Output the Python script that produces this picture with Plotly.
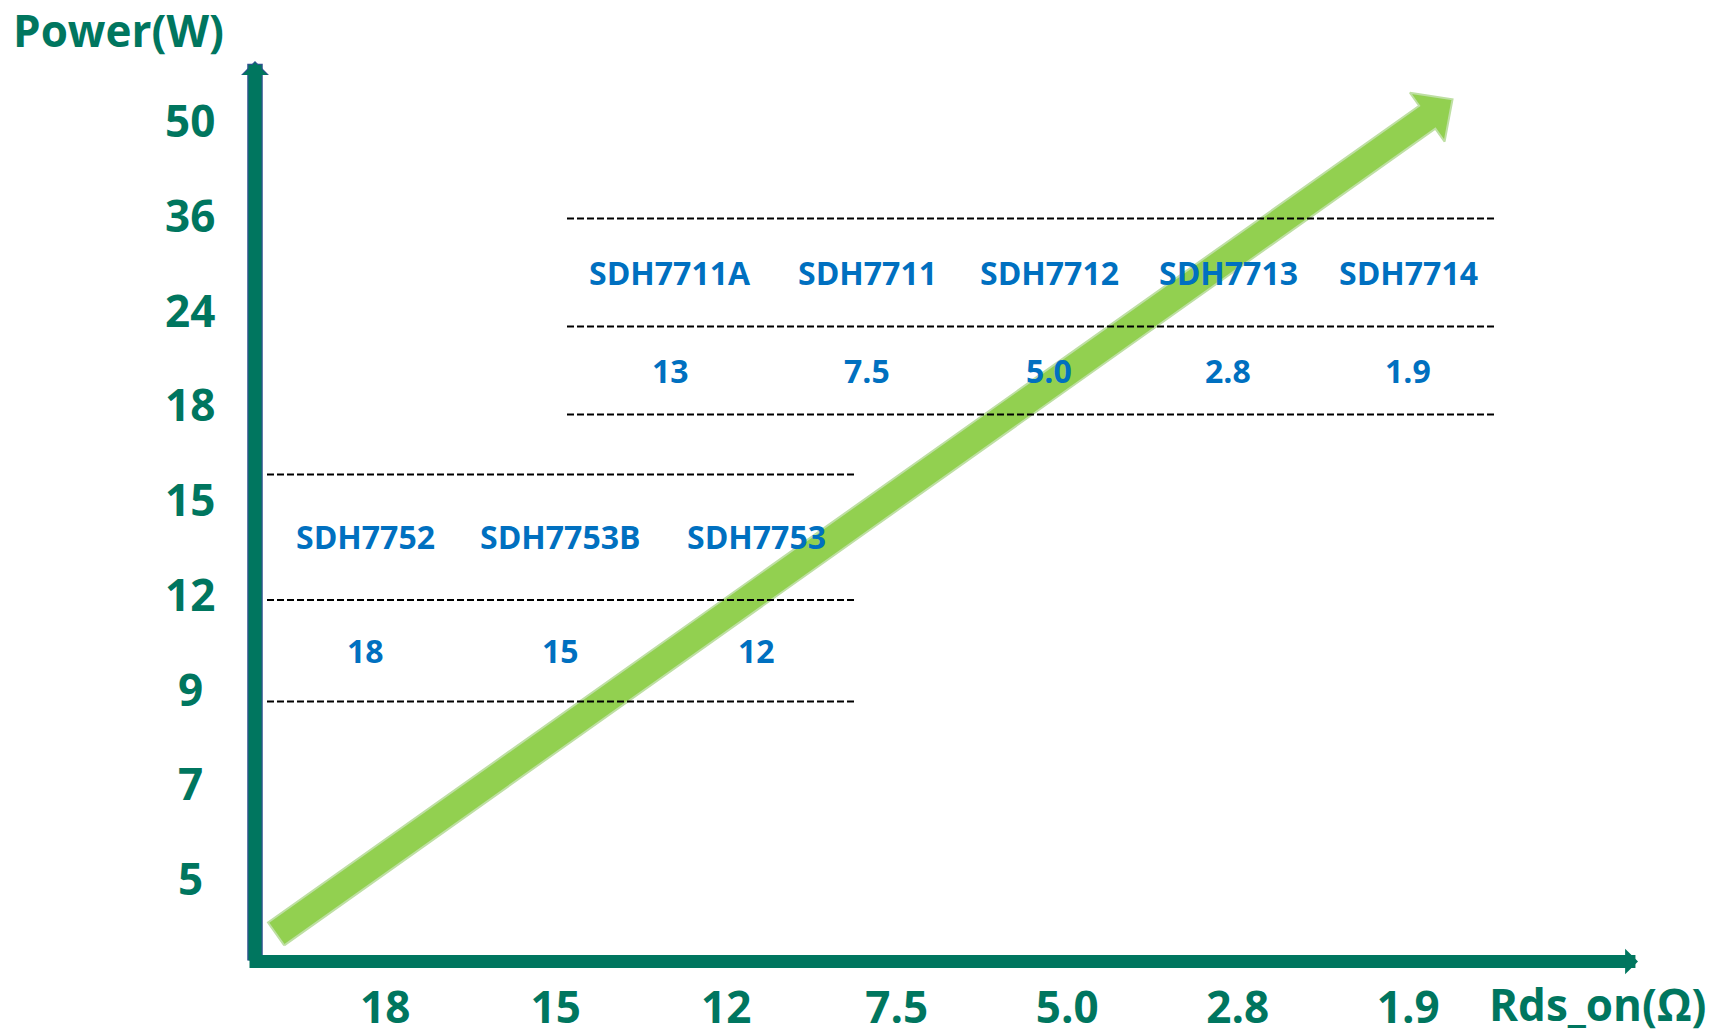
import numpy as np
import plotly.graph_objects as go

# ---------------- data ----------------
power_ticks = ["5", "7", "9", "12", "15", "18", "24", "36", "50"]      # Power(W), bottom -> top
rds_ticks = ["18", "15", "12", "7.5", "5.0", "2.8", "1.9"]           # Rds_on(Ω), left -> right

parts_high = ["SDH7711A", "SDH7711", "SDH7712", "SDH7713", "SDH7714"]
rds_high = ["13", "7.5", "5.0", "2.8", "1.9"]
parts_low = ["SDH7752", "SDH7753B", "SDH7753"]
rds_low = ["18", "15", "12"]

# trend arrow end points, in axis units (category index of x / y)
trend_from = (-0.64, -0.59)
trend_to = (6.26, 8.22)

# ---------------- layout constants ----------------
W, H = 1723, 1035
PL, PR, PT, PB = 256, 1637, 62, 962          # plot area in px
X_RANGE = [-0.758, 7.342]
Y_RANGE = [-0.886, 8.613]

TEAL = "#00765F"
BLUE = "#0070C0"
FONT = "Open Sans"


def px_x(px):
    return (px - PL) / (PR - PL)


def px_y(py):
    return (PB - py) / (PB - PT)


def to_px(x, y):
    return (PL + (x - X_RANGE[0]) / (X_RANGE[1] - X_RANGE[0]) * (PR - PL),
            PB - (y - Y_RANGE[0]) / (Y_RANGE[1] - Y_RANGE[0]) * (PB - PT))


def to_data(px, py):
    return (X_RANGE[0] + (px - PL) / (PR - PL) * (X_RANGE[1] - X_RANGE[0]),
            Y_RANGE[0] + (PB - py) / (PB - PT) * (Y_RANGE[1] - Y_RANGE[0]))


fig = go.Figure()

# ---------------- green trend arrow (polygon) ----------------
SHAFT_HALF, HEAD_HALF, HEAD_LEN = 14, 30, 31
tail = np.array(to_px(*trend_from))
tip = np.array(to_px(*trend_to))
u = (tip - tail) / np.linalg.norm(tip - tail)
n = np.array([-u[1], u[0]])
base = tip - u * HEAD_LEN
pts = [tail + n * SHAFT_HALF, base + n * SHAFT_HALF, base + n * HEAD_HALF, tip,
       base - n * HEAD_HALF, base - n * SHAFT_HALF, tail - n * SHAFT_HALF,
       tail + n * SHAFT_HALF]
poly = [to_data(p[0], p[1]) for p in pts]
fig.add_trace(go.Scatter(
    x=[p[0] for p in poly], y=[p[1] for p in poly],
    mode="lines", fill="toself", fillcolor="#92D050",
    line=dict(color="#BEDFA3", width=2),
    hoverinfo="skip", showlegend=False))

annotations = []
shapes = []

# ---------------- axis arrows ----------------
# y axis (outline underlay + teal)
annotations.append(dict(x=px_x(255), y=px_y(61), xref="paper", yref="paper",
                        ax=0, ay=901, text="", showarrow=True, arrowhead=1,
                        arrowwidth=15.5, arrowsize=0.3, arrowcolor="#2F528F",
                        font=dict(size=1)))
annotations.append(dict(x=px_x(255), y=px_y(62.5), xref="paper", yref="paper",
                        ax=0, ay=899.5, text="", showarrow=True, arrowhead=1,
                        arrowwidth=13, arrowsize=0.32, arrowcolor=TEAL,
                        font=dict(size=1)))
# x axis
annotations.append(dict(x=px_x(1638), y=px_y(961.5), xref="paper", yref="paper",
                        ax=-(1638 - 248), ay=0, text="", showarrow=True, arrowhead=1,
                        arrowwidth=13, arrowsize=0.33, arrowcolor=TEAL,
                        font=dict(size=1)))

# ---------------- y tick labels (centred) ----------------
for i, t in enumerate(power_ticks):
    annotations.append(dict(x=px_x(190), xref="paper", y=i, yref="y", text=t,
                            showarrow=False, xanchor="center", yanchor="middle",
                            font=dict(family=FONT, size=44, color=TEAL, weight="bold")))

# axis titles
annotations.append(dict(x=px_x(11), y=px_y(30), xref="paper", yref="paper",
                        text="Power(W)", showarrow=False, xanchor="left", yanchor="middle",
                        font=dict(family=FONT, size=44, color=TEAL, weight="bold")))
annotations.append(dict(x=px_x(1597), y=px_y(1004), xref="paper", yref="paper",
                        text="Rds_on(Ω)", showarrow=False, xanchor="center", yanchor="middle",
                        font=dict(family=FONT, size=44, color=TEAL, weight="bold")))

# ---------------- tables ----------------
DASH = dict(color="black", width=2, dash="7px,3px")

hi_cols = [670, 867, 1049, 1228, 1408]
hi_lines = [218.5, 326.5, 414.5]
hi_x0, hi_x1 = 567, 1497
lo_cols = [365, 560, 756]
lo_lines = [474.5, 600, 701.5]
lo_x0, lo_x1 = 267, 855

for yl in hi_lines:
    shapes.append(dict(type="line", xref="paper", yref="paper",
                       x0=px_x(hi_x0), x1=px_x(hi_x1), y0=px_y(yl), y1=px_y(yl),
                       line=DASH, layer="above"))
for yl in lo_lines:
    shapes.append(dict(type="line", xref="paper", yref="paper",
                       x0=px_x(lo_x0), x1=px_x(lo_x1), y0=px_y(yl), y1=px_y(yl),
                       line=DASH, layer="above"))

tfont = dict(family=FONT, size=32, color=BLUE, weight="bold")
for cx, name, val in zip(hi_cols, parts_high, rds_high):
    annotations.append(dict(x=px_x(cx), y=px_y(272.5), xref="paper", yref="paper", text=name,
                            showarrow=False, xanchor="center", yanchor="middle", font=tfont))
    annotations.append(dict(x=px_x(cx), y=px_y(370.5), xref="paper", yref="paper", text=val,
                            showarrow=False, xanchor="center", yanchor="middle", font=tfont))
for cx, name, val in zip(lo_cols, parts_low, rds_low):
    annotations.append(dict(x=px_x(cx), y=px_y(536.5), xref="paper", yref="paper", text=name,
                            showarrow=False, xanchor="center", yanchor="middle", font=tfont))
    annotations.append(dict(x=px_x(cx), y=px_y(650.5), xref="paper", yref="paper", text=val,
                            showarrow=False, xanchor="center", yanchor="middle", font=tfont))

fig.update_layout(
    width=W, height=H,
    margin=dict(l=PL, r=W - PR, t=PT, b=H - PB, pad=0, autoexpand=False),
    paper_bgcolor="white", plot_bgcolor="white",
    showlegend=False,
    xaxis=dict(range=X_RANGE, tickmode="array", tickvals=list(range(len(rds_ticks))),
               ticktext=rds_ticks, showgrid=False, zeroline=False, showline=False,
               ticks="", ticklabelstandoff=16, fixedrange=True, automargin=False,
               tickfont=dict(family=FONT, size=44, color=TEAL, weight="bold")),
    yaxis=dict(range=Y_RANGE, tickmode="array", tickvals=list(range(len(power_ticks))),
               showticklabels=False, showgrid=False, zeroline=False, showline=False,
               ticks="", fixedrange=True, automargin=False),
    annotations=annotations,
    shapes=shapes,
)

fig.write_html("out.html",
               config={"displayModeBar": False},
               post_script="document.body.style.margin='0px';document.body.style.overflow='hidden';")
